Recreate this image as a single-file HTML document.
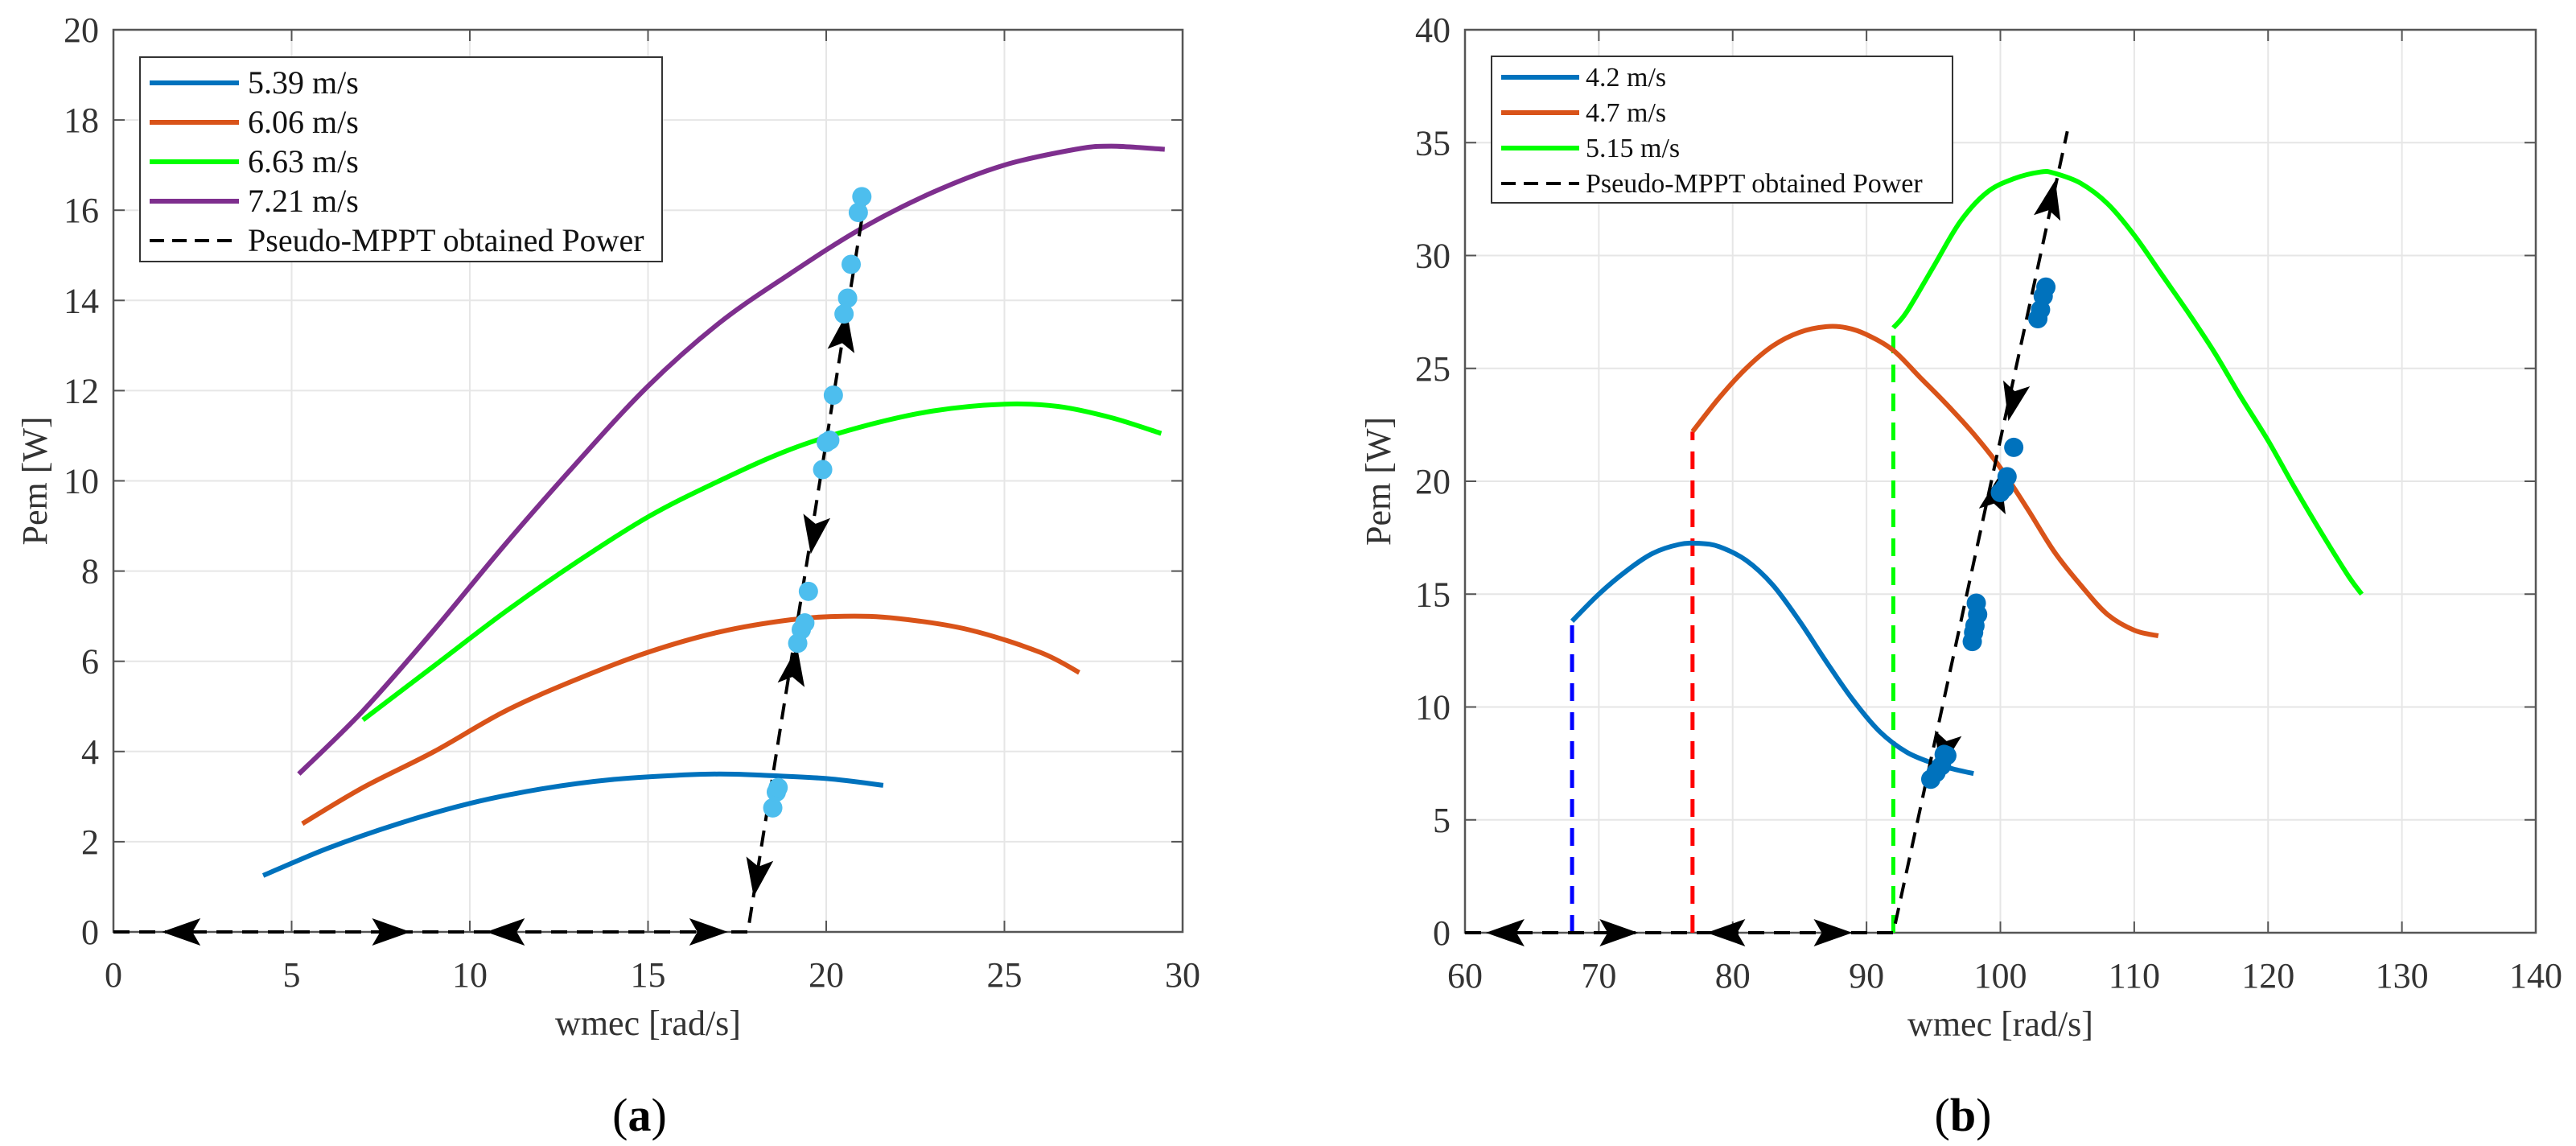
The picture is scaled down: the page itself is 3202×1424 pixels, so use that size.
<!DOCTYPE html>
<html><head><meta charset="utf-8"><style>
html,body{margin:0;padding:0;background:#fff;}
svg{display:block;font-family:"Liberation Serif",serif;}
</style></head><body>
<svg id="fig" width="3202" height="1424" viewBox="0 0 3202 1424" xmlns="http://www.w3.org/2000/svg"></svg>
<script>
// ---- Panel (a) data ----
const aXTicks=[0,5,10,15,20,25,30];
const aYTicks=[0,2,4,6,8,10,12,14,16,18,20];
const aBlueX=[4.2,6,8,10,12,14,16,17,18,20,21.6];
const aBlueY=[1.25,1.85,2.4,2.85,3.17,3.38,3.48,3.5,3.48,3.4,3.25];
const aOrangeX=[5.3,7,9,11,13,15,17,19,20.5,22,24,26,27.1];
const aOrangeY=[2.4,3.2,4.0,4.9,5.6,6.2,6.65,6.92,7.0,6.95,6.7,6.2,5.75];
const aGreenX=[7,9,11,13,15,17,19,21,23,25,26.5,28,29.4];
const aGreenY=[4.7,5.9,7.1,8.2,9.2,10.0,10.7,11.2,11.55,11.7,11.65,11.4,11.05];
const aPurpleX=[5.2,7,9,11,13,15,17,19,21,23,25,27,28,29.5];
const aPurpleY=[3.5,4.9,6.7,8.6,10.4,12.1,13.5,14.6,15.6,16.4,17.0,17.35,17.42,17.35];
const aPathX=[0,17.8,21.1];
const aPathY=[0,0,16.3];
const aDotsX=[18.5,18.6,18.65,19.2,19.3,19.4,19.5,19.9,20.0,20.1,20.2,20.5,20.6,20.7,20.9,21.0];
const aDotsY=[2.75,3.1,3.2,6.4,6.7,6.85,7.55,10.25,10.85,10.9,11.9,13.7,14.05,14.8,15.95,16.3];
const aArrowX=[1.9,7.8,11.0,16.7,18.05,19.1,19.65,20.5];
const aArrowY=[0,0,0,0,1.2,5.9,8.8,13.3];
const aArrowDir=[-1,1,-1,1,-1,1,-1,1];
// ---- Panel (b) data ----
const bXTicks=[60,70,80,90,100,110,120,130,140];
const bYTicks=[0,5,10,15,20,25,30,35,40];
const bBlueX=[68,70,72,74,76,77.5,79,81,83,85,87,89,91,93,95,96.5,98];
const bBlueY=[13.8,15.0,16.0,16.8,17.2,17.25,17.1,16.5,15.4,13.8,12.0,10.3,8.9,8.0,7.5,7.25,7.05];
const bOrangeX=[77,79,81,83,85,87,88.5,90,92,94,96,98,100,102,104,106,108,110,111.8];
const bOrangeY=[22.2,23.7,25.0,26.0,26.6,26.85,26.8,26.5,25.8,24.6,23.4,22.1,20.6,18.8,16.9,15.4,14.1,13.4,13.15];
const bGreenX=[92,93,95,97,99,101,103,104,106,108,110,112,114,116,118,120,122,124,126,127];
const bGreenY=[26.8,27.5,29.5,31.5,32.8,33.4,33.7,33.65,33.2,32.3,30.9,29.2,27.5,25.7,23.7,21.8,19.7,17.7,15.8,15.0];
const bPathX=[60,92,105];
const bPathY=[0,0,35.5];
const bDotsX=[94.8,95.2,95.6,95.8,96,97.9,98,98.1,98.3,98.2,100,100.3,100.5,101,102.8,103,103.2,103.4];
const bDotsY=[6.8,7.1,7.4,7.9,7.85,12.9,13.3,13.6,14.1,14.6,19.5,19.7,20.2,21.5,27.2,27.6,28.2,28.6];
const bArrowX=[63,71.5,79.5,87.5,95.8,99.7,100.9,103.8];
const bArrowY=[0,0,0,0,8,19.5,23.5,32.5];
const bArrowDir=[-1,1,-1,1,-1,1,-1,1];

const NS="http://www.w3.org/2000/svg";
const svg=document.getElementById('fig');
function el(tag,attrs,parent){const e=document.createElementNS(NS,tag);for(const k in attrs)e.setAttribute(k,attrs[k]);(parent||svg).appendChild(e);return e;}
function smooth(P){
  let d='M'+P[0][0].toFixed(1)+' '+P[0][1].toFixed(1);
  for(let i=0;i<P.length-1;i++){
    const p0=P[i-1]||P[i],p1=P[i],p2=P[i+1],p3=P[i+2]||P[i+1];
    const c1=[p1[0]+(p2[0]-p0[0])/6,p1[1]+(p2[1]-p0[1])/6];
    const c2=[p2[0]-(p3[0]-p1[0])/6,p2[1]-(p3[1]-p1[1])/6];
    d+=` C${c1[0].toFixed(1)} ${c1[1].toFixed(1)} ${c2[0].toFixed(1)} ${c2[1].toFixed(1)} ${p2[0].toFixed(1)} ${p2[1].toFixed(1)}`;
  }
  return d;
}

function panel(cfg){
  const g=el('g',{});
  
  
  const sx=v=>cfg.x0+(v-cfg.xmin)/(cfg.xmax-cfg.xmin)*(cfg.x1-cfg.x0);
  const sy=v=>cfg.y0-(v-cfg.ymin)/(cfg.ymax-cfg.ymin)*(cfg.y0-cfg.y1);
  cfg.xt.forEach(t=>{const l=el('line',{x1:sx(t),x2:sx(t),y1:cfg.y1,y2:cfg.y0,stroke:'#e6e6e6','stroke-width':2},g);
    });
  cfg.yt.forEach(t=>{const l=el('line',{x1:cfg.x0,x2:cfg.x1,y1:sy(t),y2:sy(t),stroke:'#e6e6e6','stroke-width':2},g);
    });
  cfg.xt.forEach(t=>{
    el('line',{x1:sx(t),x2:sx(t),y1:cfg.y0,y2:cfg.y0-14,stroke:'#555','stroke-width':2},g);
    el('line',{x1:sx(t),x2:sx(t),y1:cfg.y1,y2:cfg.y1+14,stroke:'#555','stroke-width':2},g);
    const tx=el('text',{x:sx(t),y:cfg.y0+68,'text-anchor':'middle','font-size':44,fill:'#333'},g);tx.textContent=t;
    
  });
  cfg.yt.forEach(t=>{
    el('line',{x1:cfg.x0,x2:cfg.x0+14,y1:sy(t),y2:sy(t),stroke:'#555','stroke-width':2},g);
    el('line',{x1:cfg.x1,x2:cfg.x1-14,y1:sy(t),y2:sy(t),stroke:'#555','stroke-width':2},g);
    const tx=el('text',{x:cfg.x0-18,y:sy(t)+15,'text-anchor':'end','font-size':44,fill:'#333'},g);tx.textContent=t;
    
  });
  const box=el('rect',{x:cfg.x0,y:cfg.y1,width:cfg.x1-cfg.x0,height:cfg.y0-cfg.y1,fill:'none',stroke:'#555','stroke-width':2.5},g);
  
  (cfg.vlines||[]).forEach(v=>{const l=el('line',{x1:sx(v.x),x2:sx(v.x),y1:sy(0),y2:sy(v.y),stroke:v.c,'stroke-width':5,'stroke-dasharray':'22 14'},g);
    });
  cfg.series.forEach(s=>{
    const d=smooth(s.xs.map((x,i)=>[sx(x),sy(s.ys[i])]));
    const p=el('path',{d:d,fill:'none',stroke:s.c,'stroke-width':6,'stroke-linejoin':'round'},g);
    
  });
  const pd=cfg.px.map((x,i)=>(i?'L':'M')+sx(x).toFixed(1)+' '+sy(cfg.py[i]).toFixed(1)).join(' ');
  const pp=el('path',{d:pd,fill:'none',stroke:'#000','stroke-width':4,'stroke-dasharray':'20 12'},g);
  
  const ang=Math.atan2(sy(cfg.py[2])-sy(cfg.py[1]),sx(cfg.px[2])-sx(cfg.px[1]));
  cfg.ax.forEach((x,i)=>{
    let a=cfg.ay[i]===0?(cfg.ad[i]>0?0:Math.PI):(cfg.ad[i]>0?ang:ang+Math.PI);
    let X=sx(x),Y=sy(cfg.ay[i]);
    const c=Math.cos(a),s=Math.sin(a);
    const pt=(u,v)=>(X+u*c-v*s).toFixed(1)+','+(Y+u*s+v*c).toFixed(1);
    const ar=el('polygon',{points:[pt(24,0),pt(-24,-17),pt(-14,0),pt(-24,17)].join(' '),fill:'#000'},g);
    
  });
  cfg.dx.forEach((x,i)=>{const c=el('circle',{cx:sx(x),cy:sy(cfg.dy[i]),r:12,fill:cfg.dc},g);
    });
  const xl=el('text',{x:(cfg.x0+cfg.x1)/2,y:cfg.y0+128,'text-anchor':'middle','font-size':44,fill:'#333'},g);xl.textContent='wmec [rad/s]';
  
  const yl=el('text',{x:0,y:0,'text-anchor':'middle','font-size':44,fill:'#333',transform:`translate(${cfg.ylx},${(cfg.y0+cfg.y1)/2}) rotate(-90)`},g);yl.textContent='Pem [W]';
  
  const cap=el('text',{x:cfg.capx,y:1405,'text-anchor':'middle','font-size':58,fill:'#000'},g);
  cap.innerHTML='(<tspan font-weight="bold">'+cfg.cap+'</tspan>)';
  
  const L=cfg.leg;
  const lg=el('g',{},g);
  
  el('rect',{x:L.x,y:L.y,width:L.w,height:L.h,fill:'#fff',stroke:'#333','stroke-width':2},lg);
  L.items.forEach((it,i)=>{
    const yy=L.y+L.first+i*L.step;
    const ln=el('line',{x1:L.x+L.lx1,x2:L.x+L.lx2,y1:yy,y2:yy,stroke:it.c,'stroke-width':it.dash?4:6,'stroke-dasharray':it.dash?'18 10':'none'},lg);
    
    const t=el('text',{x:L.x+L.tx,y:yy+L.fs*0.33,'font-size':L.fs,fill:'#111'},lg);t.textContent=it.t;
    
  });
}

panel({name:'panel-a',x0:141,x1:1470,y0:1158,y1:37,xmin:0,xmax:30,ymin:0,ymax:20,xt:aXTicks,yt:aYTicks,ylx:58,cap:'a',capx:795,
  series:[{xs:aBlueX,ys:aBlueY,c:'#0072BD',n:'curve-5.39'},{xs:aOrangeX,ys:aOrangeY,c:'#D95319',n:'curve-6.06'},
          {xs:aGreenX,ys:aGreenY,c:'#00FF00',n:'curve-6.63'},{xs:aPurpleX,ys:aPurpleY,c:'#7E2F8E',n:'curve-7.21'}],
  px:aPathX,py:aPathY,ax:aArrowX,ay:aArrowY,ad:aArrowDir,dx:aDotsX,dy:aDotsY,dc:'#4DBEEE',
  leg:{x:174,y:71,w:649,h:254,first:32,step:49,lx1:12,lx2:123,tx:134,fs:40,
    items:[{t:'5.39 m/s',c:'#0072BD'},{t:'6.06 m/s',c:'#D95319'},{t:'6.63 m/s',c:'#00FF00'},{t:'7.21 m/s',c:'#7E2F8E'},{t:'Pseudo-MPPT obtained Power',c:'#000',dash:true}]}});

panel({name:'panel-b',x0:1821,x1:3152,y0:1159,y1:37,xmin:60,xmax:140,ymin:0,ymax:40,xt:bXTicks,yt:bYTicks,ylx:1728,cap:'b',capx:2440,
  vlines:[{x:68,y:13.8,c:'#0000FF'},{x:77,y:22.2,c:'#FF0000'},{x:92,y:26.8,c:'#00FF00'}],
  series:[{xs:bBlueX,ys:bBlueY,c:'#0072BD',n:'curve-4.2'},{xs:bOrangeX,ys:bOrangeY,c:'#D95319',n:'curve-4.7'},{xs:bGreenX,ys:bGreenY,c:'#00FF00',n:'curve-5.15'}],
  px:bPathX,py:bPathY,ax:bArrowX,ay:bArrowY,ad:bArrowDir,dx:bDotsX,dy:bDotsY,dc:'#0072BD',
  leg:{x:1854,y:70,w:573,h:182,first:26,step:44,lx1:12,lx2:109,tx:117,fs:34,
    items:[{t:'4.2 m/s',c:'#0072BD'},{t:'4.7 m/s',c:'#D95319'},{t:'5.15 m/s',c:'#00FF00'},{t:'Pseudo-MPPT obtained Power',c:'#000',dash:true}]}});
</script>
</body></html>
